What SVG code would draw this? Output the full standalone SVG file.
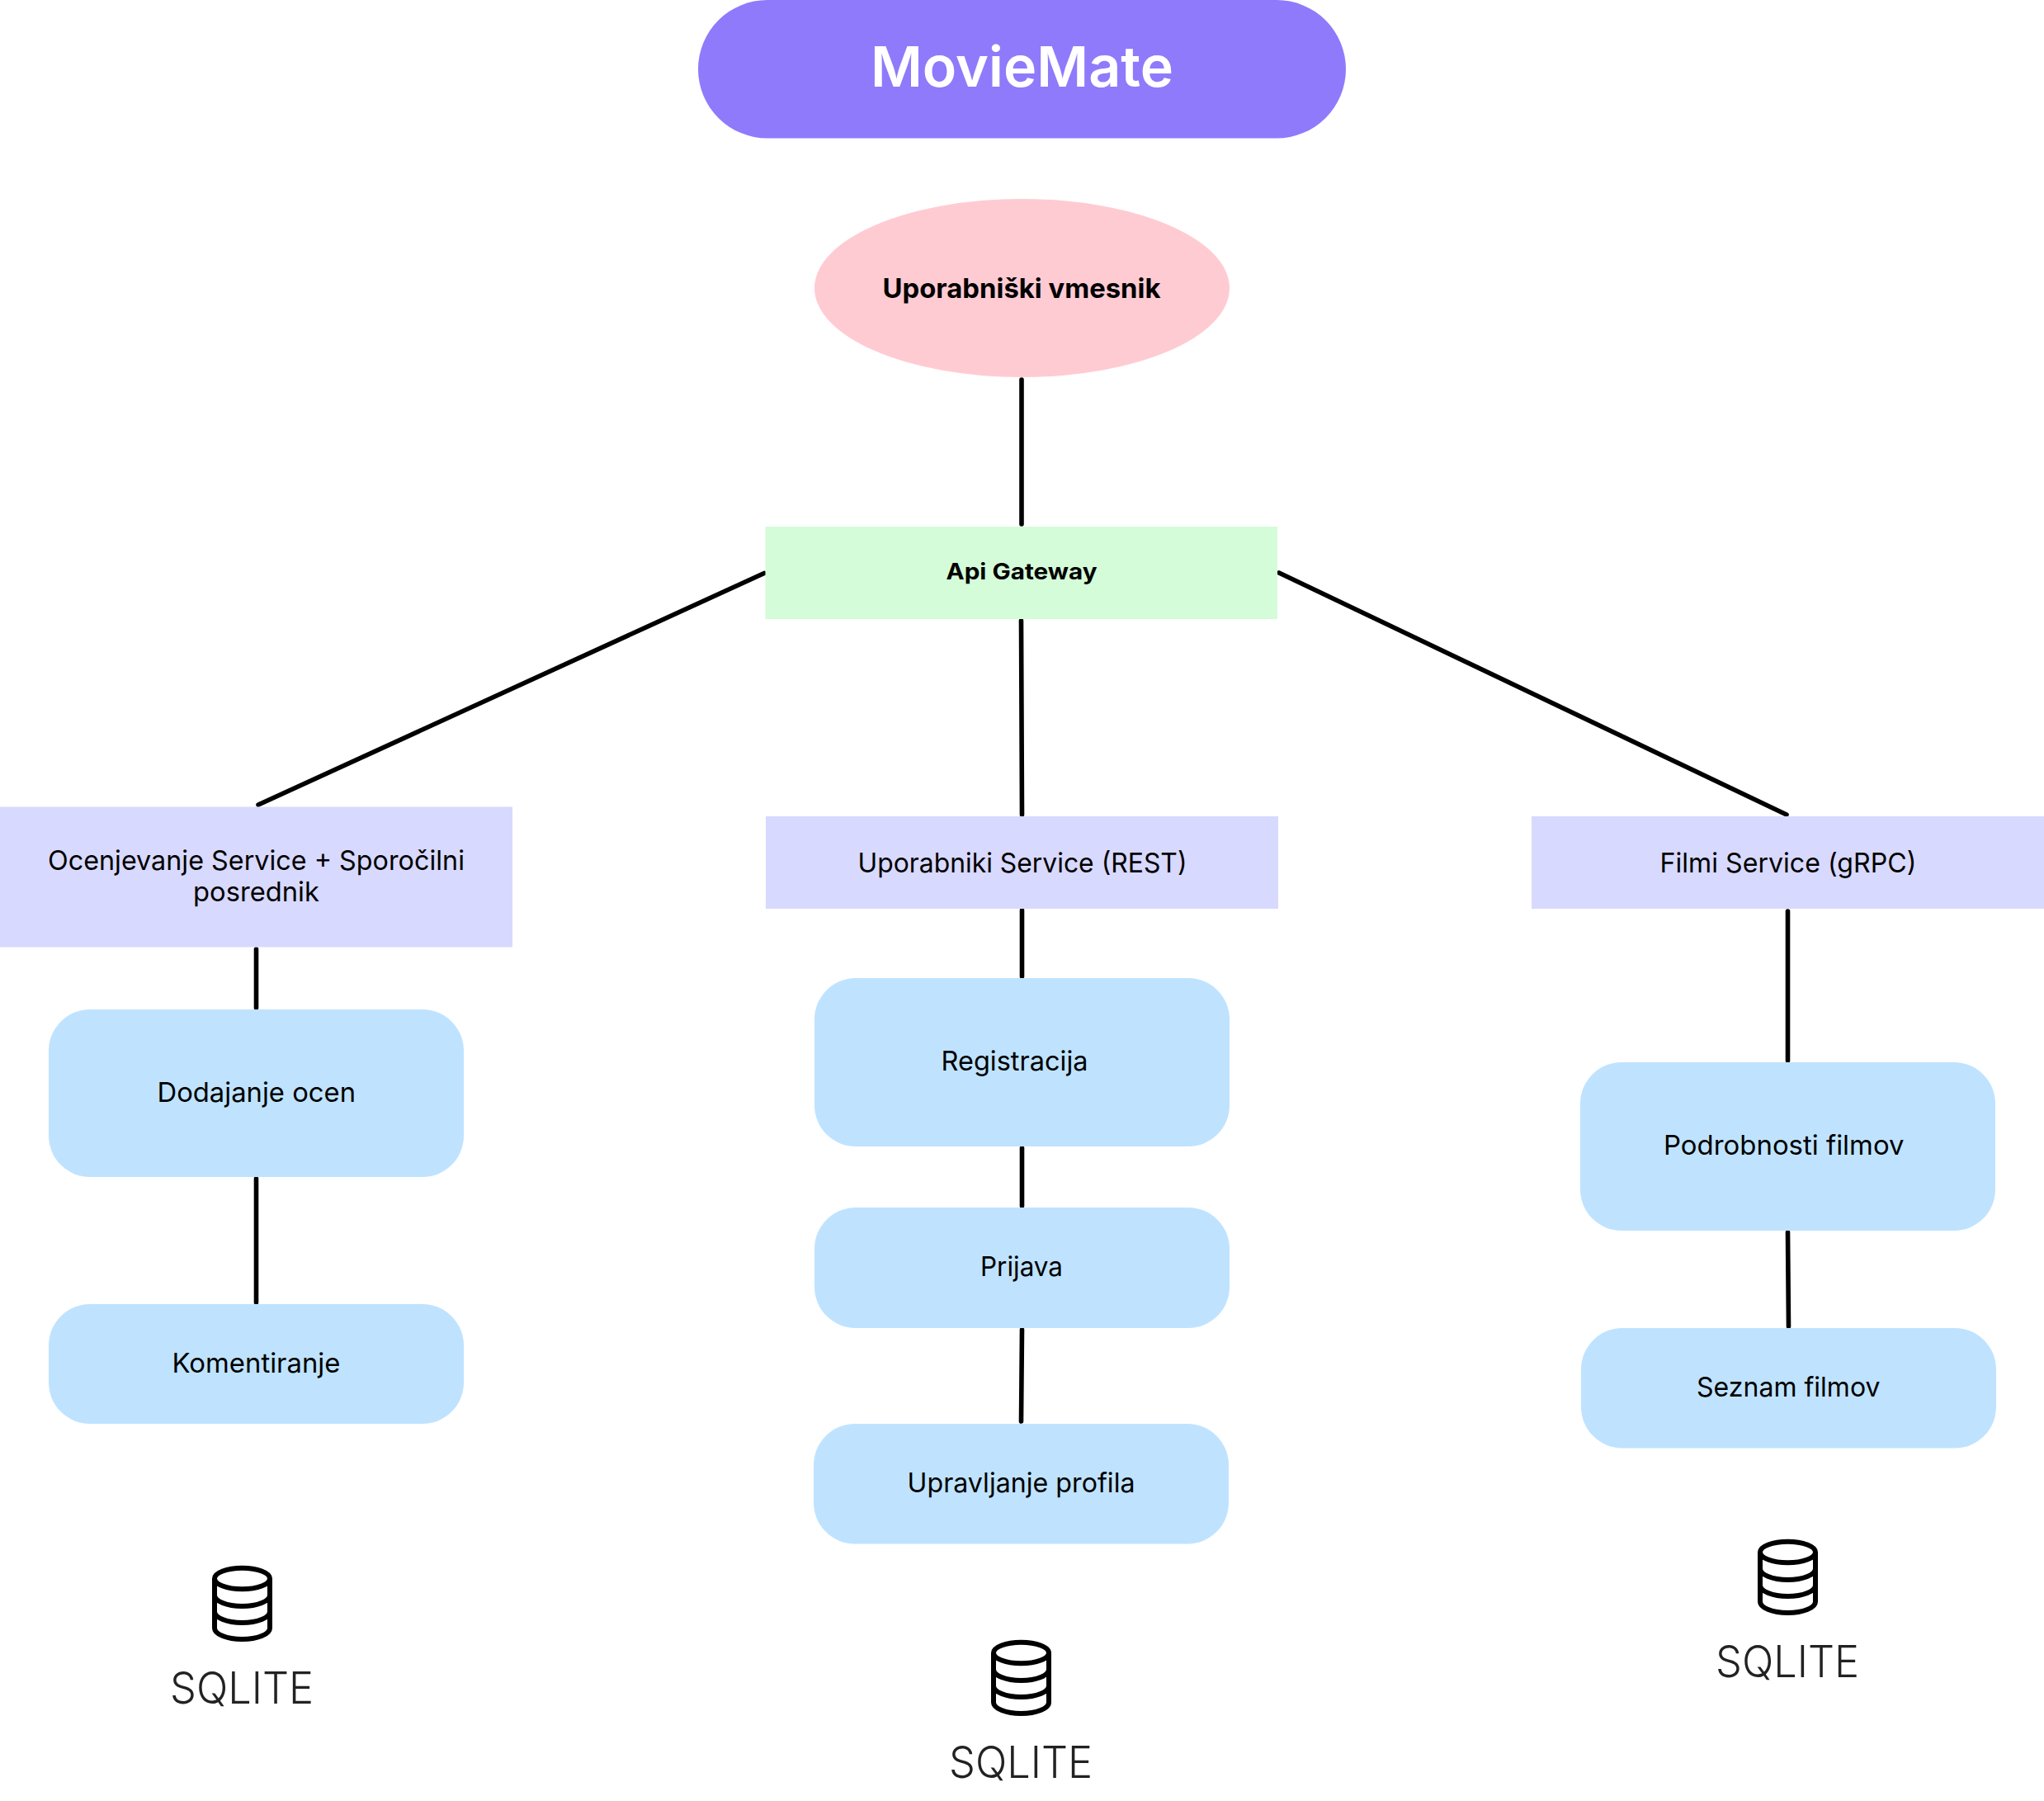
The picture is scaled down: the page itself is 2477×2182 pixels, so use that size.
<svg xmlns="http://www.w3.org/2000/svg" width="2477" height="2182" viewBox="0 0 2477 2182">
<style>
text{font-family:"Inter","Liberation Sans",sans-serif;fill:#000;font-size:33px}
.b{font-weight:700}
.db{fill:#222;font-size:54px;font-weight:300}
.svc{fill:#d8d9fe}
.act{fill:#bfe3ff}
.conn line{stroke:#000;stroke-width:5.6;stroke-linecap:round;fill:none}
.ic{fill:none;stroke:#000;stroke-width:6;stroke-linejoin:round}
</style>
<defs>
<g id="dbicon" class="ic">
<ellipse cx="36.5" cy="15.5" rx="33.5" ry="12.800"/>
<path d="M3 15.500V75.500A33.500 13.500 0 0 0 70 75.500V15.500"/>
<path d="M3 35.500A33.500 13.500 0 0 0 70 35.500"/>
<path d="M3 55.500A33.500 13.500 0 0 0 70 55.500"/>
</g>
</defs>
<rect width="2477" height="2182" fill="#fff"/>
<g id="connectors" class="conn">
<line x1="1238" y1="460" x2="1238" y2="635"/>
<line x1="926" y1="694.500" x2="313" y2="975"/>
<line x1="1550" y1="694" x2="2165" y2="987"/>
<line x1="1237.500" y1="752" x2="1238.500" y2="987"/>
<line x1="310.500" y1="1150" x2="310.500" y2="1221"/>
<line x1="310.500" y1="1428" x2="310.500" y2="1578"/>
<line x1="1238.500" y1="1103" x2="1238.500" y2="1183"/>
<line x1="1238.500" y1="1391" x2="1238.500" y2="1461"/>
<line x1="1238.500" y1="1611" x2="1237.500" y2="1722"/>
<line x1="2166.500" y1="1104" x2="2166.500" y2="1285"/>
<line x1="2166.500" y1="1493" x2="2167.500" y2="1607"/>
</g>
<g id="title"><rect x="846" y="0" width="785" height="167.500" rx="84" fill="#8f7afb"/><text x="1055" y="105" textLength="367" lengthAdjust="spacingAndGlyphs" style="font-size:68px;font-weight:600;fill:#fff">MovieMate</text></g>
<g id="ui"><ellipse cx="1238.500" cy="349" rx="251.500" ry="108" fill="#ffcbd2"/><text class="b" x="1069.500" y="361" textLength="337" lengthAdjust="spacingAndGlyphs">Uporabniški vmesnik</text></g>
<g id="gateway"><rect x="927.500" y="638" width="620.500" height="112" fill="#d4fcd9"/><text class="b" x="1146.500" y="701.500" textLength="183" lengthAdjust="spacingAndGlyphs" style="font-size:27px">Api Gateway</text></g>
<g id="ocenjevanje"><rect class="svc" x="0" y="977.500" width="621" height="170"/><text x="58" y="1053.500" textLength="505" lengthAdjust="spacingAndGlyphs">Ocenjevanje Service + Sporočilni</text><text x="234" y="1092" textLength="153" lengthAdjust="spacingAndGlyphs">posrednik</text></g>
<g id="uporabniki"><rect class="svc" x="928" y="989" width="621" height="112"/><text x="1039.500" y="1057" textLength="399" lengthAdjust="spacingAndGlyphs">Uporabniki Service (REST)</text></g>
<g id="filmi"><rect class="svc" x="1856" y="989" width="621" height="112"/><text x="2011.500" y="1057" textLength="311" lengthAdjust="spacingAndGlyphs">Filmi Service (gRPC)</text></g>
<g id="dodajanje"><rect class="act" x="59" y="1223" width="503" height="203" rx="50"/><text x="190.500" y="1335" textLength="240.500" lengthAdjust="spacingAndGlyphs">Dodajanje ocen</text></g>
<g id="komentiranje"><rect class="act" x="59" y="1580" width="503" height="145" rx="50"/><text x="208.500" y="1663" textLength="204" lengthAdjust="spacingAndGlyphs">Komentiranje</text></g>
<g id="registracija"><rect class="act" x="987" y="1185" width="503" height="204" rx="50"/><text x="1140.500" y="1297" textLength="178" lengthAdjust="spacingAndGlyphs">Registracija</text></g>
<g id="prijava"><rect class="act" x="987" y="1463" width="503" height="146" rx="50"/><text x="1188" y="1546" textLength="100" lengthAdjust="spacingAndGlyphs">Prijava</text></g>
<g id="upravljanje"><rect class="act" x="986" y="1725" width="503" height="145.500" rx="50"/><text x="1099.500" y="1808" textLength="276" lengthAdjust="spacingAndGlyphs">Upravljanje profila</text></g>
<g id="podrobnosti"><rect class="act" x="1915" y="1287" width="503" height="204" rx="50"/><text x="2016" y="1399" textLength="291.500" lengthAdjust="spacingAndGlyphs">Podrobnosti filmov</text></g>
<g id="seznam"><rect class="act" x="1916" y="1609" width="503" height="145.500" rx="50"/><text x="2056" y="1692" textLength="222.500" lengthAdjust="spacingAndGlyphs">Seznam filmov</text></g>
<g id="db-ocene"><use href="#dbicon" x="257" y="1897"/><text class="db" x="206" y="2064" textLength="174" lengthAdjust="spacingAndGlyphs">SQLITE</text></g>
<g id="db-uporabniki"><use href="#dbicon" x="1201" y="1987"/><text class="db" x="1150" y="2154" textLength="174" lengthAdjust="spacingAndGlyphs">SQLITE</text></g>
<g id="db-filmi"><use href="#dbicon" x="2130" y="1865"/><text class="db" x="2079" y="2032" textLength="174" lengthAdjust="spacingAndGlyphs">SQLITE</text></g>
</svg>
